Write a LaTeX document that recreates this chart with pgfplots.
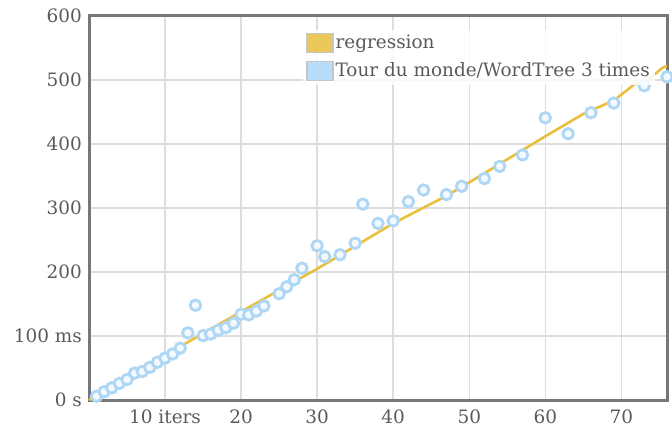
\documentclass[border=0pt]{standalone}
\usepackage{fontspec}
\setmainfont{DejaVu Serif}
\usepackage{pgfplots}
\pgfplotsset{compat=1.18}
\usetikzlibrary{calc}
\definecolor{regcol}{HTML}{E9BF3E}
\definecolor{ptcol}{HTML}{AED7F5}
\definecolor{swblue}{HTML}{ADD6F7}
\definecolor{textgray}{HTML}{5A5A5A}
\definecolor{framegray}{HTML}{777777}
\definecolor{gridgray}{HTML}{DDDDDD}
\begin{document}
\begin{tikzpicture}
\fontsize{18.5}{22}\selectfont
\begin{axis}[
  name=ax,
  scale only axis,
  width=578bp, height=384bp,
  xmin=0, xmax=76, ymin=0, ymax=600,
  xtick={10,20,30,40,50,60,70},
  xticklabels={10 iters,20,30,40,50,60,70},
  ytick={0,100,200,300,400,500,600},
  yticklabels={0 s,100 ms,200,300,400,500,600},
  major tick length=0pt,
  grid=major,
  major grid style={draw=gridgray, line width=1.5bp},
  axis line style={draw=framegray, line width=3bp},
  tick label style={text=textgray, font=\fontsize{18.5}{22}\selectfont},
  yticklabel style={inner sep=0pt, anchor=east, xshift=-7bp},
  xticklabel style={inner sep=0pt, anchor=north, yshift=-10bp},
  /pgf/number format/assume math mode=true,
  clip=false,
  legend style={draw=none, fill=white, fill opacity=0.85, text opacity=1,
    at={(rel axis cs:0.37,0.965)}, anchor=north west, inner sep=3bp,
    row sep=7bp, font=\fontsize{18.5}{22}\selectfont,
    nodes={text=textgray, inner sep=2bp}},
  legend cell align=left,
]
\addplot[color=regcol, line width=2.6bp, forget plot] coordinates {
(0,0) (10,70) (20,138) (30,205) (40,276) (47,319) (50,340) (60,412)
(65,447) (69,468) (71.8,494) (72.9,494) (75.4,519) (76,522)
};
\addlegendimage{legend image code/.code={\filldraw[fill=regcol, draw=gray!45, line width=1.5bp] (0bp,-9bp) rectangle (26bp,10bp);}}
\addlegendentry{regression}
\addplot[only marks, mark=*, mark size=5.3bp,
  mark options={draw=ptcol, fill=white!85!ptcol, line width=2.8bp}, forget plot] coordinates {
(1,6) (2,13) (3,19) (4,26) (5,32) (6,42) (7,44.5) (8,51) (9,59) (10,65.5)
(11,72) (12,81) (13,105) (14,148) (15,100.6) (16,103) (17,109) (18,113) (19,120) (20,134)
(21,133) (22,139) (23,147) (25,166) (26,177) (27,188) (28,206) (30,241) (31,224) (33,227)
(35,245) (36,306) (38,276) (40,280) (42,310) (44,328) (47,321) (49,334) (52,346) (54,365)
(57,383) (60,441) (63,416) (66,449) (69,464) (73,491) (76,505)
};
\addlegendimage{legend image code/.code={\filldraw[fill=swblue, draw=gray!45, line width=1.5bp] (0bp,-9bp) rectangle (26bp,10bp);}}
\addlegendentry{Tour du monde/WordTree 3 times}
\end{axis}
\pgfresetboundingbox
\path ($(ax.south west)+(-89bp,-31bp)$) rectangle ($(ax.north east)+(5bp,16bp)$);
\end{tikzpicture}
\end{document}
